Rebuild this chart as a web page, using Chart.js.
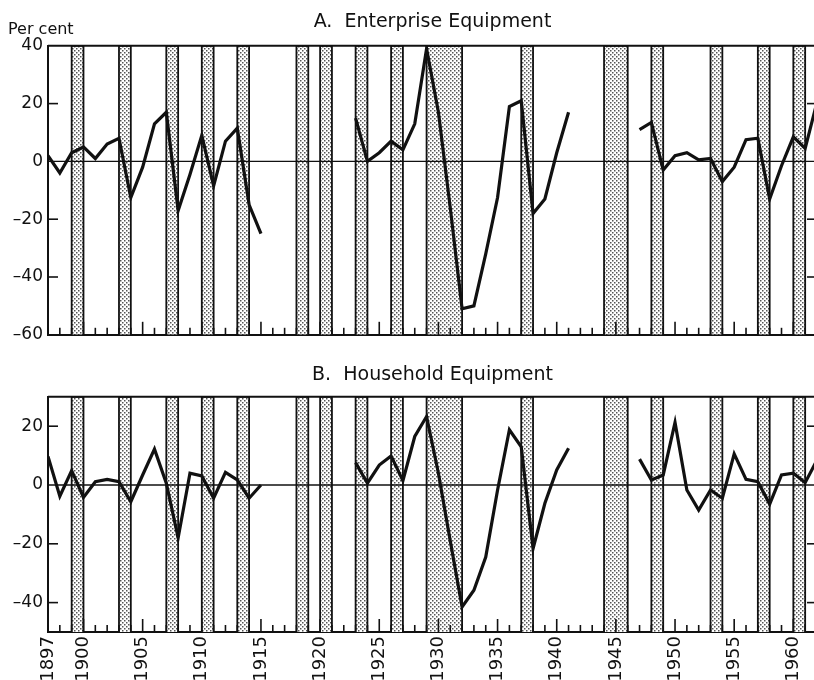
<!DOCTYPE html>
<html>
<head>
<meta charset="utf-8">
<script src="https://cdn.jsdelivr.net/npm/chart.js@4"></script>
<style>
  body { margin: 0; width: 814px; height: 680px; overflow: hidden; background: #fff; position: relative; }
  canvas { position: absolute; left: 0; }
  #top { top: 0; }
  #bottom { top: 340px; }
</style>
</head>
<body>
<canvas id="top" width="830" height="350"></canvas>
<canvas id="bottom" width="830" height="340"></canvas>
<script>
// annual change, per cent; null = no data for the year
var years = [];
for (var yr = 1897; yr <= 1962; yr++) years.push(yr);

var enterprise = [
  2, -4, 3, 5, 1, 6, 8, -12.5, -2, 13, 17, -17, -4.5, 9, -8.5, 7, 11.5, -15, -25,
  null, null, null, null, null, null, null,
  15, 0, 3, 7, 4, 13, 39, 17, -16, -51, -50, -32, -12.5, 19, 21, -18, -13, 3, 17,
  null, null, null, null, null,
  11, 13.5, -3, 2, 3, 0.5, 1, -7, -2, 7.5, 8, -13, -1.5, 8.5, 4.5, 20.5
];

var household = [
  9.7, -3.8, 4.9, -4.2, 1.1, 1.9, 1.1, -5.7, 3.4, 12.2, 0.6, -18, 4, 3.1, -4.5, 4.3, 1.7, -4.5, 0,
  null, null, null, null, null, null, null,
  7.6, 0.6, 6.8, 9.9, 1.5, 16.5, 23.3, 4, -19, -41.5, -35.8, -24.5, -1.7, 18.8, 13, -21.6, -6.2, 5.1, 12.5,
  null, null, null, null, null,
  8.8, 1.7, 3.4, 21.3, -1.7, -8.5, -1.7, -4.5, 10.6, 1.9, 1.1, -6.5, 3.4, 4, 0.8, 8.5
];

// shaded periods (start, end)
var recessions = [
  [1899, 1900], [1903, 1904], [1907, 1908], [1910, 1911], [1913, 1914],
  [1918, 1919], [1920, 1921], [1923, 1924], [1926, 1927], [1929, 1932],
  [1937, 1938], [1944, 1946], [1948, 1949], [1953, 1954], [1957, 1958], [1960, 1961]
];

var yearLabels = [1897, 1900, 1905, 1910, 1915, 1920, 1925, 1930, 1935, 1940, 1945, 1950, 1955, 1960];
var ticksA = [-60, -40, -20, 0, 20, 40];
var ticksB = [-40, -20, 0, 20];

var FONT = 'DejaVu Sans';

function stipple() {
  var c = document.createElement('canvas');
  c.width = 4; c.height = 4;
  var g = c.getContext('2d');
  g.fillStyle = '#ffffff';
  g.fillRect(0, 0, 4, 4);
  g.fillStyle = '#555555';
  g.fillRect(0, 0, 1.5, 1.5);
  g.fillRect(2, 2, 1.5, 1.5);
  return g.createPattern(c, 'repeat');
}

function bands(lo, hi) {
  var pts = [];
  recessions.forEach(function (r) {
    pts.push({x: r[0], y: lo}, {x: r[0], y: hi}, {x: r[1], y: hi}, {x: r[1], y: lo});
  });
  return pts;
}

function series(values) {
  return years.map(function (y, i) { return {x: y, y: values[i]}; });
}

var frameMarks = {
  id: 'frameMarks',
  afterDatasetsDraw: function (chart, args, opts) {
    var ctx = chart.ctx, a = chart.chartArea, x = chart.scales.x, y = chart.scales.y;
    function seg(x1, y1, x2, y2) { ctx.beginPath(); ctx.moveTo(x1, y1); ctx.lineTo(x2, y2); ctx.stroke(); }
    ctx.save();
    ctx.strokeStyle = '#111';
    ctx.lineWidth = 2;
    seg(a.left, a.top, a.right, a.top);
    ctx.lineWidth = 1.6;
    years.forEach(function (yr) {
      var px = x.getPixelForValue(yr);
      seg(px, a.bottom, px, a.bottom - (yr % 5 === 0 ? 13 : 7));
    });
    opts.yMarks.forEach(function (v) {
      var py = y.getPixelForValue(v);
      seg(a.left, py, a.left + 10, py);
      seg(a.right, py, a.right - 10, py);
    });
    if (opts.unit) {
      ctx.fillStyle = '#111';
      ctx.font = '16px ' + FONT;
      ctx.textBaseline = 'alphabetic';
      ctx.fillText(opts.unit, 8, 34);
    }
    ctx.restore();
  }
};

function makeChart(id, cfg) {
  var lo = cfg.min, hi = cfg.max;
  return new Chart(document.getElementById(id), {
    type: 'line',
    data: {
      datasets: [{
        data: series(cfg.values),
        borderColor: '#111',
        borderWidth: 3.2,
        pointRadius: 0,
        spanGaps: false,
        fill: false
      }, {
        data: [{x: years[0], y: 0}, {x: years[years.length - 1], y: 0}],
        borderColor: '#111',
        borderWidth: 1.3,
        pointRadius: 0,
        fill: false
      }, {
        data: bands(lo, hi),
        borderColor: '#111',
        borderWidth: 1.8,
        pointRadius: 0,
        fill: 'start',
        backgroundColor: stipple()
      }]
    },
    options: {
      responsive: false,
      animation: false,
      layout: { padding: { right: 13 } },
      plugins: {
        legend: { display: false },
        tooltip: { enabled: false },
        title: {
          display: true,
          text: cfg.title,
          fullSize: false,
          color: '#111',
          font: { family: FONT, size: 19, weight: 'normal' },
          padding: cfg.titlePad
        },
        frameMarks: { yMarks: [-40, -20, 20], unit: cfg.unit }
      },
      scales: {
        x: {
          type: 'linear',
          min: 1897,
          max: 1962,
          grid: { display: false, drawTicks: false },
          border: { display: true, color: '#111', width: 2 },
          afterBuildTicks: function (s) { s.ticks = yearLabels.map(function (v) { return {value: v}; }); },
          afterFit: function (s) { s.height = cfg.xHeight; },
          ticks: {
            display: cfg.showYears,
            autoSkip: false,
            minRotation: 90,
            maxRotation: 90,
            padding: 4,
            color: '#111',
            font: { family: FONT, size: 18 },
            callback: function (v) { return String(v); }
          }
        },
        y: {
          min: lo,
          max: hi,
          grid: { display: false, drawTicks: false },
          border: { display: true, color: '#111', width: 2 },
          afterBuildTicks: function (s) { s.ticks = cfg.yTicks.map(function (v) { return {value: v}; }); },
          afterFit: function (s) { s.width = 48; },
          ticks: {
            padding: 5,
            color: '#111',
            font: { family: FONT, size: 17 },
            callback: function (v) { return v < 0 ? '\u2013' + Math.abs(v) : String(v); }
          }
        }
      }
    },
    plugins: [frameMarks]
  });
}

makeChart('top', {
  title: 'A.  Enterprise Equipment',
  values: enterprise,
  min: -60, max: 40,
  yTicks: ticksA,
  titlePad: { top: 11, bottom: 12 },
  xHeight: 11,
  showYears: false,
  unit: 'Per cent'
});

makeChart('bottom', {
  title: 'B.  Household Equipment',
  values: household,
  min: -50, max: 30,
  yTicks: ticksB,
  titlePad: { top: 24, bottom: 10 },
  xHeight: 48,
  showYears: true,
  unit: null
});
</script>
</body>
</html>
